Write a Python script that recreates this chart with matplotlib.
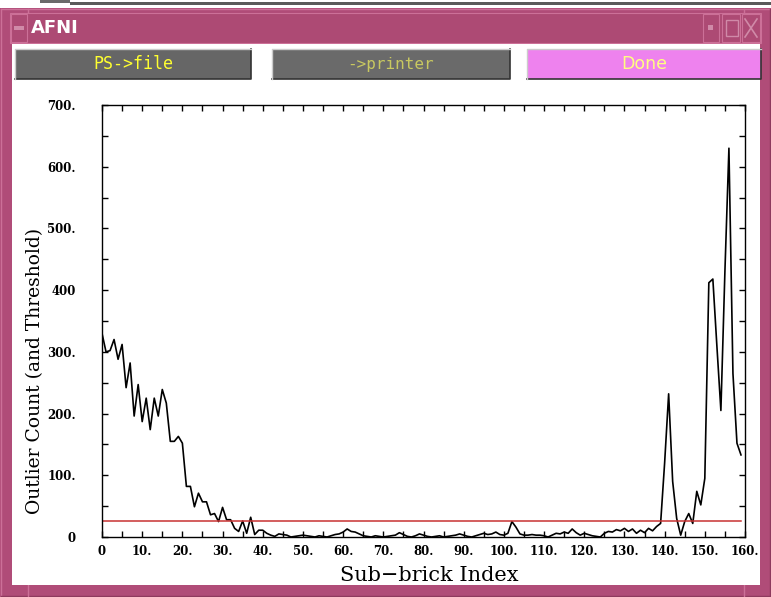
import matplotlib
matplotlib.use("Agg")
import matplotlib.pyplot as plt
from matplotlib.patches import Rectangle
import numpy as np

# ---- data ----
outlier_counts = [
    330, 300, 302, 320, 288, 312, 242, 282, 196, 247,
    187, 225, 174, 225, 196, 239, 217, 155, 155, 163,
    152, 82, 82, 49, 71, 57, 57, 36, 38, 25,
    48, 28, 28, 14, 9, 26, 6, 32, 4, 11,
    11, 6, 3, 1, 5, 4, 3, 0, 1, 2,
    3, 2, 1, 0, 2, 1, 0, 2, 4, 5,
    8, 13, 9, 8, 5, 2, 1, 0, 2, 1,
    0, 1, 2, 3, 7, 4, 1, 0, 2, 5,
    3, 1, 0, 1, 2, 0, 1, 2, 3, 5,
    3, 1, 0, 2, 4, 6, 4, 5, 8, 4,
    3, 6, 25, 16, 5, 3, 3, 4, 3, 3,
    2, 0, 3, 6, 5, 8, 6, 13, 7, 3,
    6, 4, 2, 1, 0, 6, 9, 8, 12, 10,
    14, 9, 13, 6, 11, 7, 14, 10, 17, 22,
    120, 232, 90, 30, 3, 25, 38, 22, 74, 52,
    95, 412, 418, 310, 205, 430, 630, 265, 152, 133,
]
threshold = 26
x_ticks = list(range(0, 161, 10))
x_tick_labels = ["0"] + [f"{v}." for v in range(10, 161, 10)]
y_ticks = list(range(0, 701, 100))
y_tick_labels = ["0", "100.", "200.", "300.", "400", "500.", "600.", "700."]
window_title = "AFNI"
button_labels = ["PS->file", "->printer", "Done"]
x_label = "Sub\u2212brick Index"
y_label = "Outlier Count (and Threshold)"

W, H = 771, 597
fig = plt.figure(figsize=(W / 100, H / 100), dpi=100)
fig.patch.set_facecolor("white")

# ---- window chrome (pixel coordinates, y down) ----
bg = fig.add_axes([0, 0, 1, 1], zorder=0)
bg.set_xlim(0, W)
bg.set_ylim(H, 0)
bg.axis("off")

mauve = "#B04C78"
mauve_light = "#CC7098"
mauve_dark = "#8E3A5E"

def rect(x0, y0, x1, y1, fc, ec="none", lw=0, z=1):
    bg.add_patch(Rectangle((x0, y0), x1 - x0, y1 - y0, facecolor=fc,
                           edgecolor=ec, linewidth=lw, zorder=z))

# top strip (neighbouring window)
rect(0, 0, W, 8, "white")
rect(70, 2, W, 5, "#5a5a5a")
rect(40, 0, 70, 3, "#6a6a6a")

# frame
rect(0, 8, W, H, mauve, z=1)
bg.plot([1, W - 1], [9, 9], color=mauve_light, lw=1, zorder=2)
bg.plot([1, 1], [9, H - 1], color=mauve_light, lw=1, zorder=2)
bg.plot([W - 1, W - 1], [9, H - 1], color=mauve_dark, lw=1, zorder=2)
bg.plot([1, W - 1], [H - 1, H - 1], color=mauve_dark, lw=1, zorder=2)
for xx in (28, 744):
    bg.plot([xx, xx], [9, 13], color=mauve_light, lw=1, zorder=2)
    bg.plot([xx, xx], [585, H - 1], color=mauve_light, lw=1, zorder=2)
# title bar
rect(10, 13, 761, 43, "#AD4A74", ec=mauve_light, lw=0.8, z=2)
rect(11, 14, 27, 42, "#AD4A74", ec=mauve_light, lw=0.8, z=3)
rect(14, 26, 24, 30, "#D08AA8", z=4)
bg.text(31, 28, window_title, color="white", fontsize=13, fontweight="bold",
        family="Liberation Sans Narrow", va="center", ha="left", zorder=5)
rect(703, 14, 719, 42, "#AD4A74", ec=mauve_light, lw=0.8, z=3)
rect(708, 25, 713, 30, "#D08AA8", z=4)
rect(722, 14, 740, 42, "#AD4A74", ec=mauve_light, lw=0.8, z=3)
rect(726, 20, 738, 36, "none", ec="#D08AA8", lw=1, z=4)
rect(742, 14, 760, 42, "#AD4A74", ec=mauve_light, lw=0.8, z=3)
bg.plot([745, 757], [19, 37], color="#D08AA8", lw=1.2, zorder=4)
bg.plot([745, 757], [37, 19], color="#D08AA8", lw=1.2, zorder=4)

# client area
rect(12, 44, 760, 585, "white", z=2)

# buttons
btn_specs = [
    (15, 251, "#666666", "#FFFF30", "DejaVu Sans Mono", 12),
    (272, 510, "#6a6a6a", "#C8C860", "DejaVu Sans Mono", 11.5),
    (527, 761, "#EE82EE", "#FFFF80", "Liberation Sans Narrow", 12.5),
]
for (x0, x1, fc, tc, fam, fs), lab in zip(btn_specs, button_labels):
    rect(x0, 49, x1, 79, fc, z=3)
    bg.plot([x0, x1, x1], [79, 79, 49], color="#333333", lw=1.2, zorder=4)
    bg.plot([x0, x0, x1], [79, 49, 49], color="#cccccc", lw=1.0, zorder=4)
    bg.text((x0 + x1) / 2, 64, lab, color=tc, fontsize=fs, family=fam,
            ha="center", va="center", zorder=5)

# ---- plot ----
L, R, T, B = 102, 745, 105, 537
ax = fig.add_axes([L / W, (H - B) / H, (R - L) / W, (B - T) / H], zorder=3)
ax.set_facecolor("white")
xs = np.arange(len(outlier_counts))
ax.plot(xs, outlier_counts, color="black", lw=1.2)
ax.plot([0, len(outlier_counts) - 1], [threshold, threshold], color="#C83232", lw=1.1)
ax.set_xlim(0, 160)
ax.set_ylim(0, 700)

ax.set_xticks(x_ticks)
ax.set_xticklabels(x_tick_labels)
ax.set_xticks(np.arange(0, 161, 5), minor=True)
ax.set_yticks(y_ticks)
ax.set_yticklabels(y_tick_labels)
ax.set_yticks(np.arange(0, 701, 50), minor=True)
for lab in ax.get_xticklabels() + ax.get_yticklabels():
    lab.set_family("DejaVu Serif")
    lab.set_fontweight("bold")
    lab.set_fontsize(8.5)
ax.tick_params(which="both", direction="in", top=True, right=True,
               length=4, width=1, color="black")
ax.tick_params(axis="x", which="major", pad=6)
ax.tick_params(axis="y", which="major", pad=19)
for s in ax.spines.values():
    s.set_linewidth(1.0)

ax.set_xlabel(x_label, family="DejaVu Serif", fontsize=15)
ax.xaxis.set_label_coords((429 - L) / (R - L), -(566 - B) / (B - T))
ax.set_ylabel(y_label, family="DejaVu Serif", fontsize=13.5)
ax.yaxis.set_label_coords((44 - L) / (R - L), (B - 371) / (B - T))

fig.savefig("out.png", dpi=100)
